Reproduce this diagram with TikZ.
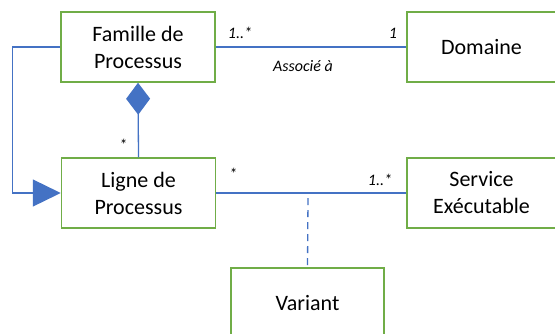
\documentclass[tikz,border=0pt]{standalone}
\usepackage{fontspec}
\setmainfont{Carlito}
\usetikzlibrary{arrows.meta}
\definecolor{boxgreen}{RGB}{112,173,71}
\definecolor{lineblue}{RGB}{68,114,196}
\begin{document}
\begin{tikzpicture}[x=1pt,y=-1pt,
 box/.style={draw=boxgreen,line width=1.5pt,fill=white,minimum width=154pt,minimum height=70pt,inner sep=0pt,align=center,font=\fontsize{22}{27}\selectfont},
 conn/.style={draw=lineblue,line width=1.3pt},
 lbl/.style={font=\itshape\fontsize{16}{18}\selectfont,inner sep=0pt}]
\clip (0,0) rectangle (555,333);
\fill[white] (0,0) rectangle (555,333);
\node[box] (fam) at (138,47) {Famille de\\Processus};
\node[box] (lig) at (138.5,193) {Ligne de\\Processus};
\node[box,minimum width=149pt] (dom) at (481.5,47) {Domaine};
\node[box,minimum width=149pt] (svc) at (481.5,193) {Service\\Exécutable};
\node[box,minimum width=153pt] (var) at (307.5,303) {Variant};
\draw[conn] (fam.east) -- (dom.west);
\draw[conn] (lig.east) -- (svc.west);
\draw[conn,-{Triangle[length=28pt,width=27pt,fill=lineblue]}] (fam.west) -- ++(-48,0) |- (lig.west);
\draw[conn,-{Diamond[length=32pt,width=24pt,fill=lineblue]}] (lig.north) -- (fam.south);
\coordinate (d) at (308,198);
\draw[conn,dash pattern=on 7pt off 5pt] (d) -- (var.north);
\node[lbl] (m1) at (240,33) {1..*};
\node[lbl] (m2) at (393,33) {1};
\node[lbl] (as) at (303,66) {Associé à};
\node[lbl] (m3) at (233,174) {*};
\node[lbl] (m4) at (380,180) {1..*};
\node[lbl] (m5) at (123,145) {*};
\end{tikzpicture}
\end{document}
